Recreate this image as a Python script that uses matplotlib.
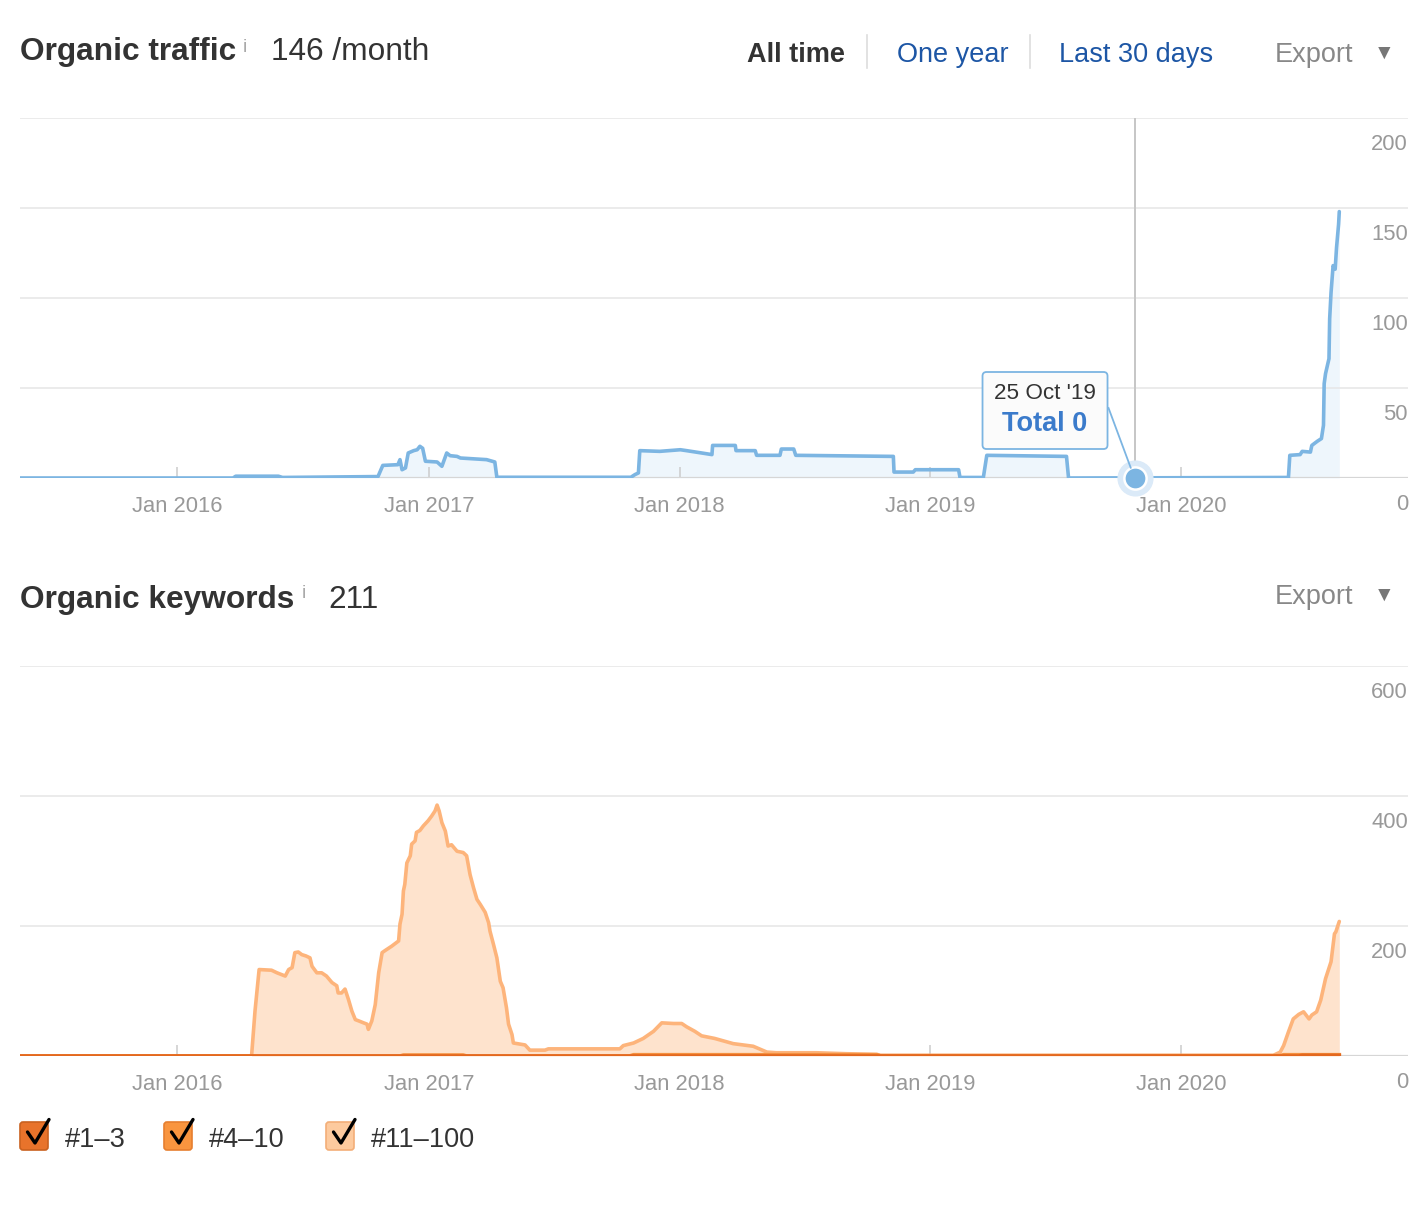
import datetime as dt

import numpy as np
import matplotlib
matplotlib.use("Agg")
import matplotlib.pyplot as plt
import matplotlib.dates as mdates
from matplotlib.patches import FancyBboxPatch

plt.rcParams["font.family"] = ["Liberation Sans", "DejaVu Sans"]

# organic traffic, visits per month
traffic_dates = [
    "2015-05-17", "2016-03-22", "2016-03-26", "2016-05-27", "2016-06-02",
    "2016-10-19", "2016-10-26", "2016-11-17", "2016-11-20", "2016-11-23",
    "2016-11-28", "2016-12-02", "2016-12-10", "2016-12-15", "2016-12-19",
    "2016-12-23", "2016-12-27", "2017-01-13", "2017-01-20", "2017-01-27",
    "2017-02-01", "2017-02-11", "2017-02-16", "2017-03-26", "2017-04-07",
    "2017-04-10", "2017-10-22", "2017-10-28", "2017-11-02", "2017-11-04",
    "2017-12-03", "2018-01-02", "2018-01-11", "2018-02-02", "2018-02-17",
    "2018-02-18", "2018-03-23", "2018-03-24", "2018-04-21", "2018-04-23",
    "2018-05-27", "2018-05-29", "2018-06-16", "2018-06-19", "2018-11-08",
    "2018-11-09", "2018-12-07", "2018-12-10", "2019-02-11", "2019-02-13",
    "2019-03-19", "2019-03-24", "2019-07-18", "2019-07-21", "2020-06-05",
    "2020-06-07", "2020-06-22", "2020-06-25", "2020-07-07", "2020-07-09",
    "2020-07-17", "2020-07-23", "2020-07-26", "2020-07-27", "2020-07-29",
    "2020-08-03", "2020-08-04", "2020-08-06", "2020-08-09", "2020-08-12",
    "2020-08-14", "2020-08-17", "2020-08-18",
]
traffic_values = [
    0, 0, 1, 1, 0.3,
    0.8, 7, 7.4, 10.2, 4.6,
    5.6, 13.9, 15.2, 15.7, 17.6,
    16.5, 9.3, 8.9, 6.5, 13.9,
    12.4, 12.0, 11.1, 10.2, 8.9,
    0.4, 0.4, 1.9, 2.8, 15.2,
    14.8, 15.7, 15.2, 13.9, 13.0,
    18.1, 18.1, 15.2, 15.2, 12.6,
    12.6, 16.1, 16.1, 12.6, 12.0,
    3.3, 3.3, 4.6, 4.6, 0.3,
    0.3, 12.6, 12.0, 0, 0.3,
    12.6, 13.0, 14.8, 14.4, 18.1,
    20.4, 21.9, 29.3, 52.4, 58,
    66.3, 88.5, 103, 118, 116,
    128, 141, 148,
]

# organic keywords by position
kw_11_100_dates = [
    "2015-05-17", "2016-04-18", "2016-04-23", "2016-04-29", "2016-05-17",
    "2016-05-25", "2016-06-06", "2016-06-11", "2016-06-16", "2016-06-20",
    "2016-06-25", "2016-06-30", "2016-07-06", "2016-07-12", "2016-07-15",
    "2016-07-22", "2016-07-29", "2016-08-05", "2016-08-13", "2016-08-20",
    "2016-08-22", "2016-08-27", "2016-09-01", "2016-09-06", "2016-09-11",
    "2016-09-16", "2016-09-21", "2016-09-28", "2016-10-03", "2016-10-05",
    "2016-10-10", "2016-10-15", "2016-10-20", "2016-10-25", "2016-10-29",
    "2016-11-08", "2016-11-18", "2016-11-20", "2016-11-23", "2016-11-25",
    "2016-11-27", "2016-11-30", "2016-12-05", "2016-12-07", "2016-12-12",
    "2016-12-14", "2016-12-19", "2016-12-24", "2016-12-31", "2017-01-05",
    "2017-01-10", "2017-01-13", "2017-01-16", "2017-01-20", "2017-01-25",
    "2017-01-29", "2017-02-03", "2017-02-11", "2017-02-20", "2017-02-25",
    "2017-03-02", "2017-03-07", "2017-03-12", "2017-03-17", "2017-03-24",
    "2017-03-29", "2017-03-31", "2017-04-05", "2017-04-10", "2017-04-15",
    "2017-04-19", "2017-04-24", "2017-04-27", "2017-05-02", "2017-05-04",
    "2017-05-21", "2017-05-28", "2017-06-19", "2017-06-24", "2017-10-06",
    "2017-10-11", "2017-10-26", "2017-11-09", "2017-11-24", "2017-12-06",
    "2017-12-23", "2018-01-04", "2018-01-11", "2018-01-23", "2018-02-02",
    "2018-02-21", "2018-03-20", "2018-04-18", "2018-05-08", "2018-05-22",
    "2018-07-19", "2018-09-01", "2018-10-15", "2018-10-20", "2020-05-14",
    "2020-05-24", "2020-05-29", "2020-06-05", "2020-06-12", "2020-06-20",
    "2020-06-27", "2020-07-05", "2020-07-09", "2020-07-16", "2020-07-22",
    "2020-07-29", "2020-08-06", "2020-08-11", "2020-08-13", "2020-08-18",
]
kw_11_100 = [
    0, 0, 69, 133, 132,
    128, 123, 133, 136, 159,
    160, 156, 154, 151, 138,
    128, 128, 123, 113, 108,
    97, 97, 103, 87, 69,
    56, 54, 51, 49, 41,
    54, 79, 128, 159, 162,
    169, 177, 203, 218, 254,
    264, 297, 308, 326, 331,
    344, 347, 354, 362, 369,
    377, 386, 377, 359, 346,
    323, 325, 315, 313, 308,
    279, 259, 241, 233, 221,
    205, 192, 172, 151, 115,
    105, 74, 49, 33, 20,
    17, 9, 9, 11, 11,
    16, 20, 27, 38, 51,
    50, 50, 45, 38, 31,
    27, 19, 15, 6, 5,
    5, 3.5, 2.5, 1, 1,
    6, 16, 37, 57, 64,
    68, 57, 63, 68, 86,
    119, 145, 188, 191, 207,
]
kw_4_10_dates = ["2015-05-17", "2016-11-20", "2016-11-25", "2017-02-20", "2017-02-25",
                 "2017-10-20", "2017-10-26", "2018-10-15", "2018-10-20", "2020-05-24",
                 "2020-05-29", "2020-08-18"]
kw_4_10 = [0, 0, 1.5, 1.5, 0, 0, 2, 2, 0.5, 0.5, 2, 2]
kw_1_3_dates = ["2015-05-17", "2020-06-20", "2020-06-25", "2020-08-18"]
kw_1_3 = [0, 0, 1, 1]

traffic_ticks = [0, 50, 100, 150, 200]
kw_ticks = [0, 200, 400, 600]
year_ticks = ["2016-01-01", "2017-01-01", "2018-01-01", "2019-01-01", "2020-01-01"]
year_labels = ["Jan 2016", "Jan 2017", "Jan 2018", "Jan 2019", "Jan 2020"]
x_range = ["2015-05-17", "2020-11-26"]
legend_labels = ["#1–3", "#4–10", "#11–100"]
range_labels = ["All time", "One year", "Last 30 days"]
hover_date = "2019-10-25"
hover_value = 0

BLUE = "#7cb5e2"
GREY_TXT = "#999999"
DARK = "#333333"
LINK = "#1d56a5"

W, H = 1426, 1206
fig = plt.figure(figsize=(W / 100, H / 100), dpi=100)


def to_dates(d):
    return np.array(d, dtype="datetime64[D]")


def px_axes(left, top, right, bottom):
    return fig.add_axes([left / W, 1 - bottom / H, (right - left) / W, (bottom - top) / H])


def style_chart(ax, ticks):
    for s in ax.spines.values():
        s.set_visible(False)
    ax.set_xlim(to_dates(x_range))
    ax.set_ylim(ticks[0], ticks[-1])
    ax.set_yticks(ticks)
    ax.yaxis.grid(True, color="#e6e6e6", lw=1.1)
    ax.tick_params(axis="y", length=0, labelleft=False)
    ax.set_xticks(to_dates(year_ticks))
    ax.set_xticklabels(year_labels)
    ax.tick_params(axis="x", direction="in", length=8, width=1.1, color="#cccccc",
                   labelcolor=GREY_TXT, labelsize=15.8, pad=13)
    ax.axhline(0, color="#d6d6d6", lw=1.6, zorder=1.6)
    for t in ticks:
        ax.annotate(str(t), xy=(1, t), xycoords=("axes fraction", "data"),
                    xytext=(0, -26), textcoords="offset pixels",
                    ha="right", va="center", fontsize=15.8, color=GREY_TXT,
                    annotation_clip=False)
    ax.patch.set_alpha(0)


# ---- organic traffic
ax1 = px_axes(20, 118, 1408, 478)
style_chart(ax1, traffic_ticks)
td = to_dates(traffic_dates)
ax1.fill_between(td, traffic_values, color="#eef6fc", lw=0, zorder=1)
ax1.plot(td, traffic_values, color=BLUE, lw=2.6, zorder=3,
         solid_joinstyle="round", solid_capstyle="round")
hd = to_dates([hover_date])
ax1.axvline(hd[0], color="#c6c6c6", lw=1.4, zorder=2)
ax1.plot(hd, [hover_value], "o", ms=25, color="#dbeaf8", zorder=4, clip_on=False)
ax1.plot(hd, [hover_value], "o", ms=16, mfc=BLUE, mec="white", mew=1.8, zorder=5, clip_on=False)

# ---- organic keywords
ax2 = px_axes(20, 666, 1408, 1056)
style_chart(ax2, kw_ticks)
kd = to_dates(kw_11_100_dates)
ax2.fill_between(kd, kw_11_100, color="#fee3cd", lw=0, zorder=2)
ax2.plot(kd, kw_11_100, color="#fdb47b", lw=2.6, zorder=3,
         solid_joinstyle="round", solid_capstyle="round")
ax2.plot(to_dates(kw_4_10_dates), kw_4_10, color="#f5913f", lw=2.6, zorder=3.2)
ax2.plot(to_dates(kw_1_3_dates), kw_1_3, color="#e3681f", lw=2.6, zorder=3.4)

# ---- overlay in pixel coordinates for headers, tooltip and legend
ov = fig.add_axes([0, 0, 1, 1], zorder=10)
ov.set_xlim(0, W)
ov.set_ylim(H, 0)
ov.axis("off")

ov.text(20, 60, "Organic traffic", fontsize=22.8, fontweight="bold", color=DARK)
ov.text(243, 52, "i", fontsize=14, color="#aaaaaa")
ov.text(271, 60, "146 /month", fontsize=22.8, color=DARK)
ov.text(747, 62, range_labels[0], fontsize=19.5, fontweight="bold", color=DARK)
ov.text(897, 62, range_labels[1], fontsize=19.5, color=LINK)
ov.text(1059, 62, range_labels[2], fontsize=19.5, color=LINK)
for xs in (867, 1030):
    ov.plot([xs, xs], [35, 68], color="#dddddd", lw=1.2)

for ybase in (62, 604):
    ov.text(1275, ybase, "Export", fontsize=19.5, color="#888888")
    ov.text(1384, ybase - 9, "▼", fontsize=15, color="#777777", ha="center", va="center")

ov.text(20, 608, "Organic keywords", fontsize=22.8, fontweight="bold", color=DARK)
ov.text(302, 598, "i", fontsize=14, color="#aaaaaa")
ov.text(328, 608, "211", fontsize=22.8, color=DARK)

# tooltip anchored on the hovered point
hx, hy = ax1.transData.transform((mdates.date2num(hd[0]), hover_value))
hy = H - hy
bx, by, bw, bh = hx - 152, hy - 106, 125, 77
ov.add_patch(FancyBboxPatch((bx, by), bw, bh, boxstyle="round,pad=0,rounding_size=4",
                            fc="#fbfbfb", ec=BLUE, lw=1.3, zorder=3))
sx, sy = bx + bw + 1, by + 36
vx, vy = hx - sx, hy - sy
dist = np.hypot(vx, vy)
ov.plot([sx, hx - vx / dist * 11], [sy, hy - vy / dist * 11], color=BLUE, lw=1.3, zorder=2)
hover_txt = dt.date.fromisoformat(hover_date).strftime("%d %b '%y")
ov.text(bx + bw / 2, by + 21, hover_txt, fontsize=16.2, color=DARK, ha="center", va="center", zorder=4)
ov.text(bx + bw / 2, by + 52, f"Total {hover_value}", fontsize=19.5, fontweight="bold",
        color="#3b7bcb", ha="center", va="center", zorder=4)

# legend with ticked boxes
legend_x = [20, 164, 326]
legend_fc = ["#e8732b", "#f9953f", "#fdca9e"]
legend_ec = ["#c9611f", "#e67f30", "#f3ae78"]
for lx, lab, fc, ec in zip(legend_x, legend_labels, legend_fc, legend_ec):
    ov.add_patch(FancyBboxPatch((lx, 1122), 28, 28, boxstyle="round,pad=0,rounding_size=3",
                                fc=fc, ec=ec, lw=1.2))
    ov.plot([lx + 7.5, lx + 15, lx + 29], [1132, 1143, 1119.5], color="black", lw=2.4,
            solid_capstyle="round", solid_joinstyle="round")
    ov.text(lx + 45, 1147, lab, fontsize=19.5, color=DARK)

fig.savefig("out.png", dpi=100)
